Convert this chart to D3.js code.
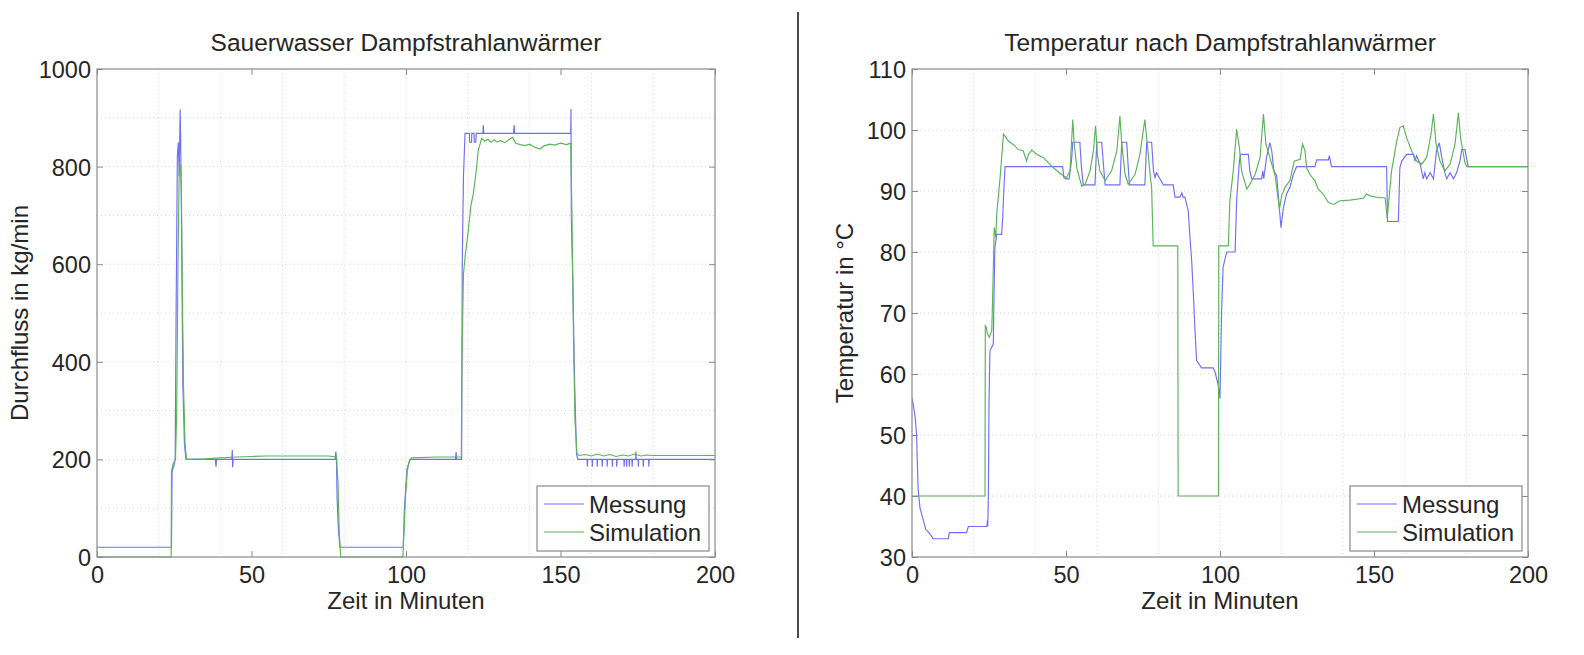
<!DOCTYPE html>
<html>
<head>
<meta charset="utf-8">
<script src="https://cdn.jsdelivr.net/npm/d3@7"></script>
<style>
  html, body { margin: 0; padding: 0; background: #fff; }
  svg { display: block; font-family: "Liberation Sans", Arial, Helvetica, sans-serif; }
</style>
</head>
<body>
<svg id="chart" width="1584" height="655"></svg>
<script>
// ---------- data ----------
const xTicks = [0, 50, 100, 150, 200];
const xGrid = [20, 40, 60, 80, 100, 120, 140, 160, 180];
const leftYTicks = [0, 200, 400, 600, 800, 1000];
const leftYGrid = [100, 200, 300, 400, 500, 600, 700, 800, 900];
const rightYTicks = [30, 40, 50, 60, 70, 80, 90, 100, 110];
const rightYGrid = [40, 50, 60, 70, 80, 90, 100];

const leftTitle = "Sauerwasser Dampfstrahlanwärmer";
const rightTitle = "Temperatur nach Dampfstrahlanwärmer";
const xLabel = "Zeit in Minuten";
const leftYLabel = "Durchfluss in kg/min";
const rightYLabel = "Temperatur in °C";
const seriesNames = ["Messung", "Simulation"];

// Durchfluss, Messung [time, kg/min]
const flowMessung = [
  [0,20],[24.1,20],[24.3,175],[25,190],[25.3,200],[25.6,500],[26,820],[26.3,850],[26.6,780],[26.9,917],
  [27.1,850],[27.4,650],[27.8,350],[28.3,230],[28.8,200],[38.3,200],[38.5,185],[38.7,200],[43.6,200],
  [43.8,219],[43.9,184],[44.1,200],[77.1,200],[77.3,216],[77.5,200],[77.7,120],[78.1,60],[78.6,20],
  [99.1,20],[99.5,100],[100.3,180],[101.3,200],[116,200],[116.2,215],[116.4,200],[118,200],[118.2,600],
  [118.6,780],[119.1,868],[120.5,868],[120.6,850],[121.2,850],[121.3,868],[122,868],[122.1,850],
  [122.6,850],[122.7,868],[124.9,868],[125,885],[125.2,868],[134.8,868],[135,885],[135.2,868],
  [153.3,868],[153.4,918],[153.5,700],[154,560],[154.6,350],[155.2,210],[155.6,200],
  [158.6,200],[158.7,185],[158.8,200],[160.2,200],[160.3,185],[160.4,200],[161.8,200],[161.9,185],[162,200],
  [163.4,200],[163.5,185],[163.6,200],[165,200],[165.1,185],[165.2,200],[166.7,200],[166.8,185],[166.9,200],
  [168.1,200],[168.2,185],[168.3,200],[170.5,200],[170.6,185],[170.7,200],[171.3,200],[171.4,185],[171.5,200],
  [172.2,200],[172.3,185],[172.4,200],[173.1,200],[173.2,185],[173.3,200],[174.3,200],[174.4,216],[174.5,200],
  [175.1,200],[175.2,185],[175.3,200],[176.7,200],[176.8,185],[176.9,200],[178.5,200],[178.6,185],[178.7,200],
  [200,200]
];

// Durchfluss, Simulation [time, kg/min]
const flowSimulation = [
  [0,0],[24,0],[24.1,175],[24.6,190],[25.4,200],[25.8,300],[26.2,600],[26.6,790],[27,805],[27.3,760],
  [27.6,550],[28,350],[28.5,230],[29,200],[35,201],[40,203],[45,205],[50,206],[55,207],[65,207],[75,207],
  [77.5,205],[78,150],[78.4,50],[78.9,0],[99,0],[99.4,60],[99.8,120],[100.4,175],[101,195],[101.8,203],
  [110,205],[117.9,205],[118.1,400],[118.6,580],[119.2,620],[120,660],[121,720],[121.8,745],[122.7,790],
  [123.4,834],[124.5,858],[125.5,852],[126.5,856],[127.5,850],[128.5,855],[129.5,850],[130.5,853],
  [132,849],[133.5,856],[134.5,860],[135.5,848],[137,845],[138.5,843],[140,846],[141.5,840],[143.4,836],
  [144.5,842],[146.6,846],[148,844],[150,848],[152,845],[153.3,848],[153.7,700],[154.2,450],[154.7,280],
  [155.3,212],[156,208],[158,210],[160,207],[162,211],[164,207],[166,210],[168,206],[170,209],[172,207],
  [174,211],[176,207],[178,209],[180,208],[200,208]
];

// Temperatur, Messung [time, °C]
const tempMessung = [
  [0,56],[0.4,55],[1,53],[1.5,50],[1.7,46],[2,41],[2.6,38],[3.7,36],[4.5,34.5],[5.5,34],[6.9,33],
  [11.8,33],[12.1,34],[17.7,34],[18.3,35],[24.3,35],[24.5,36],[24.6,35],[24.8,40],[25,55],[25.3,63.8],
  [26.4,64.9],[26.6,72],[26.9,80.7],[27.5,82.9],[29.1,82.9],[29.5,86],[29.7,88.9],[30.2,94],[48.9,94],
  [49.3,92.2],[50,92],[51,92],[51.8,95],[52.2,98],[54.5,98],[55,94],[55.6,91],[59.4,91],[60,98],
  [61.6,98],[62.2,94],[62.7,91],[67.5,91],[68.1,98],[69.7,98],[70.2,94],[70.6,91],[75.6,91],[76.2,98],
  [77.8,98],[78.4,93.3],[78.9,92.2],[79.4,93],[80.5,92],[81.6,91],[84.8,91],[85.4,89],[87,89],
  [87.6,89.7],[88,89],[88.6,89],[89.7,86.7],[90.3,82],[90.8,78.6],[91.3,73.6],[91.9,67],[92.4,62.2],
  [94,61],[97.8,61],[98.4,60.3],[99.5,58],[100,56],[100.5,69.8],[101,77.5],[101.6,78.8],[102.2,80],
  [104.9,80],[105.4,88.4],[106.3,94.9],[106.7,96],[109.2,96],[109.7,93.3],[110.3,92],[113.5,92],
  [113.9,93.3],[114.2,92],[115.1,95.5],[116.2,97.9],[116.8,96.6],[117.5,93.3],[118.4,92.5],[118.9,89.5],
  [119.8,84],[120.6,87.3],[121.6,89.5],[122.7,90.6],[123.8,92.7],[124.9,94],[130.8,94],[131.4,95.1],
  [135.2,95.1],[135.5,95.8],[136.2,94],[154.1,94],[154.4,85],[157.9,85],[158.4,93.8],[159,94.9],
  [160.6,96],[162.8,96],[163.3,94.9],[163.8,95.8],[165,94.4],[166,92],[166.5,93],[167.1,92],[168.2,93],
  [169.3,92],[170.3,96.6],[171.2,97.9],[172,95.5],[173,93],[173.6,92],[174.7,93],[175.8,92],[176.8,93],
  [177.9,94.9],[178.5,96.8],[179.5,96.8],[180.6,94],[200,94]
];

// Temperatur, Simulation [time, °C]
const tempSimulation = [
  [0,40],[23.7,40],[23.8,67.9],[24.1,67.7],[24.5,66.6],[25.1,66],[25.9,67.1],[26.3,75],[26.7,84],
  [27.2,82.4],[27.5,86.2],[28.6,92.2],[29.7,99.3],[30.2,99],[31.3,98.2],[33.4,97.4],[34.5,96.8],
  [36.1,96.6],[37.2,94.9],[37.8,96],[38.9,96.7],[40.5,96],[42.6,95.5],[45.9,93.8],[49.1,92.5],
  [50.2,92.2],[51.3,93.3],[52.2,101.7],[52.6,98.2],[53.5,93.8],[55.1,90.8],[56.2,91.1],[57.8,93.3],
  [58.9,96.6],[59.6,100.7],[60.2,96],[61,93.3],[62.7,91.7],[64.8,93.3],[66.5,96.6],[67.5,102.3],
  [68.1,97.7],[69.2,92.7],[70.2,91.1],[72.4,92.7],[74,96],[75.6,101.7],[76.4,97.7],[77.3,92.7],
  [77.8,90.6],[78.3,81],[86.3,81],[86.4,40],[99.5,40],[99.6,81],[102.7,81],[103.2,88.4],[104.3,93.3],
  [105.4,100.1],[106.3,97.1],[107,93.3],[108.7,90.3],[109.7,91.1],[111.4,92.7],[113,95.5],[114.1,102.6],
  [114.9,97.7],[116.2,95.5],[117.9,92.5],[119.3,87],[120,89.2],[121.1,90.6],[122.7,91.7],[124.1,94.9],
  [126,95.2],[126.8,97.7],[127.6,96.6],[128.1,93.8],[129.2,92.7],[130.8,91.7],[131.9,90.3],[133.5,89.5],
  [135.2,88.1],[136.8,87.8],[139,88.4],[142.2,88.5],[146.5,88.8],[147.6,89.5],[148.7,89.2],[151.9,88.9],
  [153.6,88.9],[154.3,85.4],[154.6,87.3],[155.7,93.3],[157.4,98.2],[158.4,100.4],[159.5,100.7],
  [160.6,98.7],[162.2,96.6],[163.8,94.9],[165.5,94.4],[167.1,95.5],[168.5,99.3],[169.3,102.6],
  [170.1,97.9],[171.4,94.9],[173,93.3],[174.7,94.4],[176.3,97.7],[177.4,102.8],[178.1,98.7],
  [179.5,94.7],[180.1,94],[200,94]
];

// ---------- drawing ----------
const svg = d3.select("#chart");
const COL_MESS = "#6f6ff8";
const COL_SIM = "#5ab45a";
const FRAME = "#8a8a8a";
const TXT = "#262626";

function panel(opt) {
  const g = svg.append("g");
  const x = d3.scaleLinear().domain([0, 200]).range([opt.x0, opt.x1]);
  const y = d3.scaleLinear().domain(opt.yDomain).range([opt.y1, opt.y0]);

  // grid
  g.append("g").selectAll("line").data(xGrid).join("line")
    .attr("x1", d => x(d)).attr("x2", d => x(d))
    .attr("y1", opt.y0).attr("y2", opt.y1)
    .attr("stroke", "#d4d4d4").attr("stroke-width", 1).attr("stroke-dasharray", "1,3");
  g.append("g").selectAll("line").data(opt.yGrid).join("line")
    .attr("x1", opt.x0).attr("x2", opt.x1)
    .attr("y1", d => y(d)).attr("y2", d => y(d))
    .attr("stroke", "#d4d4d4").attr("stroke-width", 1).attr("stroke-dasharray", "1,3");

  // lines
  const line = d3.line().x(d => x(d[0])).y(d => y(d[1]));
  const clipId = "clip" + opt.id;
  svg.append("clipPath").attr("id", clipId).append("rect")
    .attr("x", opt.x0).attr("y", opt.y0 - 1).attr("width", opt.x1 - opt.x0).attr("height", opt.y1 - opt.y0 + 4);
  const lg = g.append("g").attr("clip-path", `url(#${clipId})`);
  lg.append("path").datum(opt.mess).attr("d", line)
    .attr("fill", "none").attr("stroke", COL_MESS).attr("stroke-width", 1.15);
  lg.append("path").datum(opt.sim).attr("d", line)
    .attr("fill", "none").attr("stroke", COL_SIM).attr("stroke-width", 1.15);

  // axes (ticks inward on all sides)
  const fs = "23.5px";
  const fmt = d3.format("d");
  const bottom = g.append("g").attr("transform", `translate(0,${opt.y1})`)
    .call(d3.axisBottom(x).tickValues(xTicks).tickSizeInner(-6).tickSizeOuter(0).tickFormat(fmt));
  const top = g.append("g").attr("transform", `translate(0,${opt.y0})`)
    .call(d3.axisTop(x).tickValues(xTicks).tickSizeInner(-6).tickSizeOuter(0).tickFormat(""));
  const left = g.append("g").attr("transform", `translate(${opt.x0},0)`)
    .call(d3.axisLeft(y).tickValues(opt.yTicks).tickSizeInner(-6).tickSizeOuter(0).tickFormat(fmt));
  const right = g.append("g").attr("transform", `translate(${opt.x1},0)`)
    .call(d3.axisRight(y).tickValues(opt.yTicks).tickSizeInner(-6).tickSizeOuter(0).tickFormat(""));
  [bottom, top, left, right].forEach(a => {
    a.select(".domain").remove();
    a.selectAll(".tick line").attr("stroke", FRAME);
    a.selectAll("text").attr("fill", TXT).style("font-size", fs)
      .style("font-family", "'Liberation Sans', Arial, sans-serif");
  });
  bottom.selectAll("text").attr("dy", "0.72em").attr("y", 9);
  left.selectAll("text").attr("x", -6).attr("dy", "0.36em");

  // frame
  g.append("rect").attr("x", opt.x0).attr("y", opt.y0)
    .attr("width", opt.x1 - opt.x0).attr("height", opt.y1 - opt.y0)
    .attr("fill", "none").attr("stroke", FRAME).attr("stroke-width", 1.2);

  // title & labels
  g.append("text").attr("x", (opt.x0 + opt.x1) / 2).attr("y", 51)
    .attr("text-anchor", "middle").attr("fill", TXT).style("font-size", "24.5px").text(opt.title);
  g.append("text").attr("x", (opt.x0 + opt.x1) / 2).attr("y", 609)
    .attr("text-anchor", "middle").attr("fill", TXT).style("font-size", "24px").text(xLabel);
  g.append("text")
    .attr("transform", `translate(${opt.yLabelX},${(opt.y0 + opt.y1) / 2}) rotate(-90)`)
    .attr("text-anchor", "middle").attr("fill", TXT).style("font-size", "24px").text(opt.yLabel);

  // legend
  const lw = 172, lh = 65;
  const lx = opt.x1 - 6 - lw, ly = opt.y1 - 6 - lh;
  const leg = g.append("g").attr("transform", `translate(${lx},${ly})`);
  leg.append("rect").attr("width", lw).attr("height", lh)
    .attr("fill", "#fff").attr("stroke", FRAME).attr("stroke-width", 1.2);
  const cols = [COL_MESS, COL_SIM];
  seriesNames.forEach((name, i) => {
    const yy = 18 + i * 28;
    leg.append("line").attr("x1", 7).attr("x2", 47).attr("y1", yy).attr("y2", yy)
      .attr("stroke", cols[i]).attr("stroke-width", 1.15);
    leg.append("text").attr("x", 52).attr("y", yy).attr("dy", "0.36em")
      .attr("fill", TXT).style("font-size", "24px").text(name);
  });
}

panel({
  id: "L", x0: 97, x1: 715, y0: 69, y1: 557,
  yDomain: [0, 1000], yTicks: leftYTicks, yGrid: leftYGrid,
  mess: flowMessung, sim: flowSimulation,
  title: leftTitle, yLabel: leftYLabel, yLabelX: 28
});
panel({
  id: "R", x0: 912, x1: 1528, y0: 69, y1: 557,
  yDomain: [30, 110], yTicks: rightYTicks, yGrid: rightYGrid,
  mess: tempMessung, sim: tempSimulation,
  title: rightTitle, yLabel: rightYLabel, yLabelX: 853
});

// divider
svg.append("line").attr("x1", 798).attr("x2", 798).attr("y1", 12).attr("y2", 638)
  .attr("stroke", "#111").attr("stroke-width", 1.5);
</script>
</body>
</html>
